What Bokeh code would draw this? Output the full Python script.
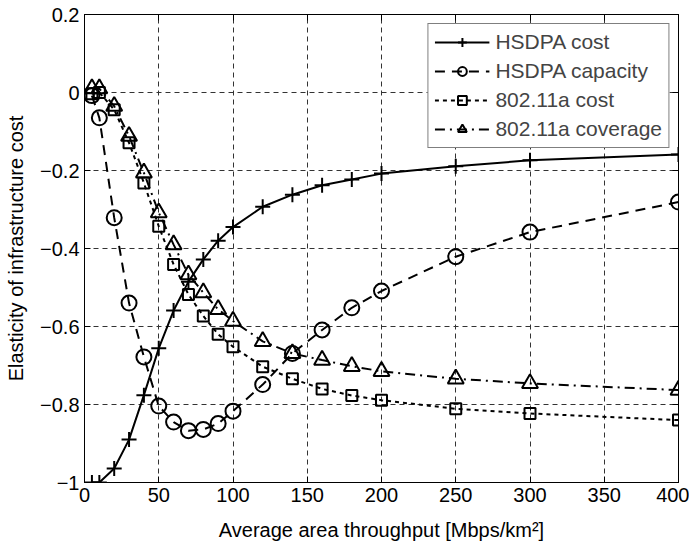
from bokeh.plotting import figure
from bokeh.models import (ColumnDataSource, Legend, LegendItem, LinearAxis,
                          FixedTicker, Range1d, CustomJSTickFormatter)
from bokeh.embed import file_html
from bokeh.resources import INLINE

# ---- data ----
x = [5, 10, 20, 30, 40, 50, 60, 70, 80, 90, 100, 120, 140, 160, 180, 200, 250, 300, 400]
hsdpa_cost = [-1.0, -1.0, -0.964, -0.89, -0.776, -0.656, -0.559, -0.485, -0.428, -0.38,
              -0.345, -0.293, -0.262, -0.238, -0.223, -0.208, -0.189, -0.174, -0.159]
hsdpa_capacity = [-0.008, -0.065, -0.321, -0.54, -0.678, -0.804, -0.845, -0.867, -0.864, -0.849,
                  -0.817, -0.749, -0.669, -0.609, -0.552, -0.509, -0.421, -0.358, -0.281]
wlan_cost = [-0.003, 0.0, -0.044, -0.129, -0.232, -0.343, -0.441, -0.518, -0.573, -0.62,
             -0.652, -0.703, -0.734, -0.76, -0.777, -0.789, -0.811, -0.823, -0.84]
wlan_coverage = [0.01, 0.01, -0.035, -0.112, -0.206, -0.308, -0.39, -0.467, -0.513, -0.556,
                 -0.586, -0.638, -0.669, -0.686, -0.702, -0.715, -0.734, -0.746, -0.763]

series_labels = ["HSDPA cost", "HSDPA capacity", "802.11a cost", "802.11a coverage"]
x_ticks = [0, 50, 100, 150, 200, 250, 300, 350, 400]
y_ticks = [-1.0, -0.8, -0.6, -0.4, -0.2, 0.0, 0.2]
y_tick_labels = ["\u22121", "\u22120.8", "\u22120.6", "\u22120.4", "\u22120.2", "0", "0.2"]
x_label = "Average area throughput [Mbps/km\u00b2]"
y_label = "Elasticity of infrastructure cost"

FONT = "Liberation Sans"
FS = "20px"

p = figure(frame_width=594, frame_height=468, output_backend="svg", toolbar_location=None,
           x_range=Range1d(0, 400), y_range=Range1d(-1, 0.2),
           min_border_left=84, min_border_top=14, min_border_right=11, min_border_bottom=10)
p.background_fill_color = "white"
p.border_fill_color = "white"
p.outline_line_color = "black"
p.outline_line_width = 1

for ax in (p.xaxis[0], p.yaxis[0]):
    ax.major_label_text_font = FONT
    ax.major_label_text_font_size = FS
    ax.major_label_text_color = "black"
    ax.axis_label_text_font = FONT
    ax.axis_label_text_font_size = FS
    ax.axis_label_text_font_style = "normal"
    ax.axis_label_text_color = "black"
    ax.major_tick_in = 6
    ax.major_tick_out = 0
    ax.minor_tick_line_color = None
    ax.axis_line_color = "black"
    ax.major_tick_line_color = "black"
    ax.major_label_standoff = 5

p.xaxis[0].ticker = FixedTicker(ticks=x_ticks)
p.yaxis[0].ticker = FixedTicker(ticks=y_ticks)
p.yaxis[0].major_label_overrides = {t: l for t, l in zip(y_ticks, y_tick_labels)}
p.xaxis[0].axis_label = x_label
p.yaxis[0].axis_label = y_label
p.xaxis[0].axis_label_standoff = 14
p.yaxis[0].axis_label_standoff = 10

# box ticks on top and right (no labels)
blank = CustomJSTickFormatter(code="return ''")
top = LinearAxis(ticker=FixedTicker(ticks=x_ticks), major_tick_in=6, major_tick_out=0,
                 minor_tick_line_color=None, formatter=blank, major_label_standoff=0,
                 axis_line_color="black")
right = LinearAxis(ticker=FixedTicker(ticks=y_ticks), major_tick_in=6, major_tick_out=0,
                   minor_tick_line_color=None, formatter=blank, major_label_standoff=0,
                   axis_line_color="black")
p.add_layout(top, "above")
p.add_layout(right, "right")

p.grid.grid_line_color = "#333333"
p.grid.grid_line_dash = "5 4"
p.grid.grid_line_width = 1
p.xgrid.ticker = FixedTicker(ticks=x_ticks)
p.ygrid.ticker = FixedTicker(ticks=y_ticks)

src = ColumnDataSource(dict(x=x, a=hsdpa_cost, b=hsdpa_capacity, c=wlan_cost, d=wlan_coverage))

LW = 2
l1 = p.line("x", "a", source=src, line_color="black", line_width=LW)
m1 = p.scatter("x", "a", source=src, marker="cross", size=15, line_color="black", line_width=LW)
l2 = p.line("x", "b", source=src, line_color="black", line_width=LW, line_dash="10 7")
m2 = p.scatter("x", "b", source=src, marker="circle", size=15, line_color="black",
               fill_color=None, line_width=LW)
l3 = p.line("x", "c", source=src, line_color="black", line_width=LW, line_dash="4 4")
m3 = p.scatter("x", "c", source=src, marker="square", size=11, line_color="black",
               fill_color=None, line_width=LW)
l4 = p.line("x", "d", source=src, line_color="black", line_width=LW, line_dash="10 5 2 5")
m4 = p.scatter("x", "d", source=src, marker="triangle", size=16, line_color="black",
               fill_color=None, line_width=LW)

items = [LegendItem(label=series_labels[0], renderers=[l1, m1]),
         LegendItem(label=series_labels[1], renderers=[l2, m2]),
         LegendItem(label=series_labels[2], renderers=[l3, m3]),
         LegendItem(label=series_labels[3], renderers=[l4, m4])]
legend = Legend(items=items, location="top_right", margin=9, padding=6, spacing=5,
                glyph_width=55, glyph_height=22, label_height=22, label_standoff=6,
                label_text_font=FONT, label_text_font_size="21px",
                border_line_color="black", border_line_width=1,
                background_fill_color="white", background_fill_alpha=1)
p.add_layout(legend)

open("out.html", "w").write(file_html(p, INLINE))
